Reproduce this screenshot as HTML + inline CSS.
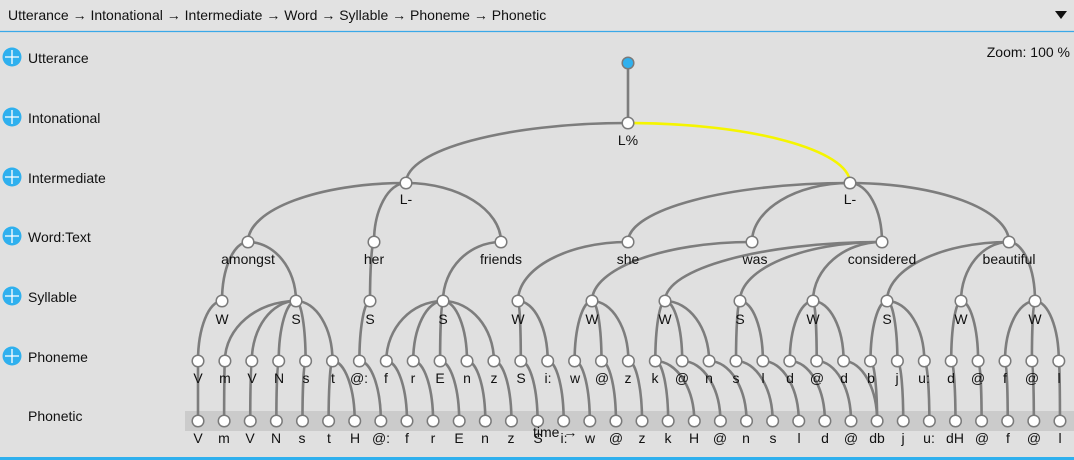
<!DOCTYPE html>
<html><head><meta charset="utf-8"><style>
html,body{margin:0;padding:0;background:#e0e0e0;width:1074px;height:460px;overflow:hidden;font-family:"Liberation Sans",Arial,sans-serif}
svg{position:absolute;left:0;top:0}
text{font-family:"Liberation Sans",Arial,sans-serif;font-size:14px;fill:#111}
.m{text-anchor:middle}
</style></head><body>
<svg width="1074" height="460" id="s">
<rect x="0" y="0" width="1074" height="31" fill="#e2e2e2"/>
<line x1="0" y1="31.5" x2="1074" y2="31.5" stroke="#3aa8e8" stroke-width="1.2"/>
<text x="8" y="20">Utterance → Intonational → Intermediate → Word → Syllable → Phoneme → Phonetic</text>
<polygon points="1055,11 1067,11 1061,19" fill="#111"/>
<text x="1070" y="57" text-anchor="end">Zoom: 100 %</text>
<rect x="185" y="411" width="889" height="20" fill="#cbcbcb"/>
<rect x="0" y="457" width="1074" height="3" fill="#2fb0ee"/>
<g id="icons"></g>
<text x="28" y="63">Utterance</text>
<text x="28" y="123">Intonational</text>
<text x="28" y="183">Intermediate</text>
<text x="28" y="242">Word:Text</text>
<text x="28" y="302">Syllable</text>
<text x="28" y="362">Phoneme</text>
<text x="28" y="421">Phonetic</text>
<g id="edges" fill="none" stroke="#7d7d7d" stroke-width="2.6"></g>
<g id="nodes"></g>
<g class="m">
<text x="628" y="145">L%</text>
<text x="406" y="204">L-</text><text x="850" y="204">L-</text>
<text x="248" y="264">amongst</text><text x="374" y="264">her</text><text x="501" y="264">friends</text><text x="628" y="264">she</text><text x="755" y="264">was</text><text x="882" y="264">considered</text><text x="1009" y="264">beautiful</text>
<text x="222" y="324">W</text><text x="296" y="324">S</text><text x="370" y="324">S</text><text x="443" y="324">S</text><text x="518" y="324">W</text><text x="592" y="324">W</text><text x="665" y="324">W</text><text x="740" y="324">S</text><text x="813" y="324">W</text><text x="887" y="324">S</text><text x="961" y="324">W</text><text x="1035" y="324">W</text>
<text x="198" y="383">V</text><text x="225" y="383">m</text><text x="252" y="383">V</text><text x="279" y="383">N</text><text x="306" y="383">s</text><text x="333" y="383">t</text><text x="359" y="383">@:</text><text x="386" y="383">f</text><text x="413" y="383">r</text><text x="440" y="383">E</text><text x="467" y="383">n</text><text x="494" y="383">z</text><text x="521" y="383">S</text><text x="548" y="383">i:</text><text x="575" y="383">w</text><text x="602" y="383">@</text><text x="628" y="383">z</text><text x="655" y="383">k</text><text x="682" y="383">@</text><text x="709" y="383">n</text><text x="736" y="383">s</text><text x="763" y="383">l</text><text x="790" y="383">d</text><text x="817" y="383">@</text><text x="844" y="383">d</text><text x="871" y="383">b</text><text x="897" y="383">j</text><text x="924" y="383">u:</text><text x="951" y="383">d</text><text x="978" y="383">@</text><text x="1005" y="383">f</text><text x="1032" y="383">@</text><text x="1059" y="383">l</text>
<text x="198" y="443">V</text><text x="224" y="443">m</text><text x="250" y="443">V</text><text x="276" y="443">N</text><text x="302" y="443">s</text><text x="329" y="443">t</text><text x="355" y="443">H</text><text x="381" y="443">@:</text><text x="407" y="443">f</text><text x="433" y="443">r</text><text x="459" y="443">E</text><text x="485" y="443">n</text><text x="511" y="443">z</text><text x="538" y="443">S</text><text x="564" y="443">i:</text><text x="590" y="443">w</text><text x="616" y="443">@</text><text x="642" y="443">z</text><text x="668" y="443">k</text><text x="694" y="443">H</text><text x="720" y="443">@</text><text x="746" y="443">n</text><text x="773" y="443">s</text><text x="799" y="443">l</text><text x="825" y="443">d</text><text x="851" y="443">@</text><text x="877" y="443">db</text><text x="903" y="443">j</text><text x="929" y="443">u:</text><text x="955" y="443">dH</text><text x="982" y="443">@</text><text x="1008" y="443">f</text><text x="1034" y="443">@</text><text x="1060" y="443">l</text>
</g>
<text x="533" y="437">time →</text>
</svg>
<script>
var NS="http://www.w3.org/2000/svg";
function el(p,t,a){var e=document.createElementNS(NS,t);for(var k in a)e.setAttribute(k,a[k]);document.getElementById(p).appendChild(e);return e;}
[57,117,177,236,296,356].forEach(function(y){el("icons","circle",{cx:12,cy:y,r:9.5,fill:"#2fb0ee"});
el("icons","path",{d:"M5 "+y+"H19M12 "+(y-7)+"V"+(y+7),stroke:"#fff","stroke-width":1.3});});
var ph=[],pt=[];for(var j=0;j<33;j++)ph.push(198+26.9*j);for(var i=0;i<34;i++)pt.push(198+26.12*i);
function edge(px,py,cx,cy,col){var dx=cx-px,dy=cy-py;
el("edges","path",{d:"M"+px+" "+py+"C"+(px+0.55*dx)+" "+py+" "+cx+" "+(cy-0.55*dy)+" "+cx+" "+cy,stroke:col||"#7d7d7d"});}
function node(x,y,f){el("nodes","circle",{cx:x,cy:y,r:5.8,fill:f||"#fff",stroke:"#7a7a7a","stroke-width":1.5});}
edge(628,63,628,123);edge(628,123,406,183);edge(628,123,850,183,"#f5f500");
var words=[[248,406],[374,406],[501,406],[628,850],[752,850],[882,850],[1009,850]];
words.forEach(function(w){edge(w[1],183,w[0],242);});
var syl=[[222,248,[0]],[296,248,[1,2,3,4,5]],[370,374,[6]],[443,501,[7,8,9,10,11]],[518,628,[12,13]],[592,752,[14,15,16]],[665,882,[17,18,19]],[740,882,[20,21]],[813,882,[22,23,24]],[887,1009,[25,26,27]],[961,1009,[28,29]],[1035,1009,[30,31,32]]];
syl.forEach(function(s){edge(s[1],242,s[0],301);s[2].forEach(function(k){edge(s[0],301,ph[k],361);});});
var map=[];for(j=0;j<33;j++){if(j<=5)map.push([j]);else if(j<=17)map.push([j+1]);else if(j<=24)map.push([j+2]);else map.push([j+1]);}
map[5]=[5,6];map[17]=[18,19];
map.forEach(function(m,j){m.forEach(function(i){edge(ph[j],361,pt[i],421);});});
node(628,63,"#2fb0ee");node(628,123);node(406,183);node(850,183);
words.forEach(function(w){node(w[0],242);});syl.forEach(function(s){node(s[0],301);});
ph.forEach(function(x){node(x,361);});pt.forEach(function(x){node(x,421);});
</script>
</body></html>
